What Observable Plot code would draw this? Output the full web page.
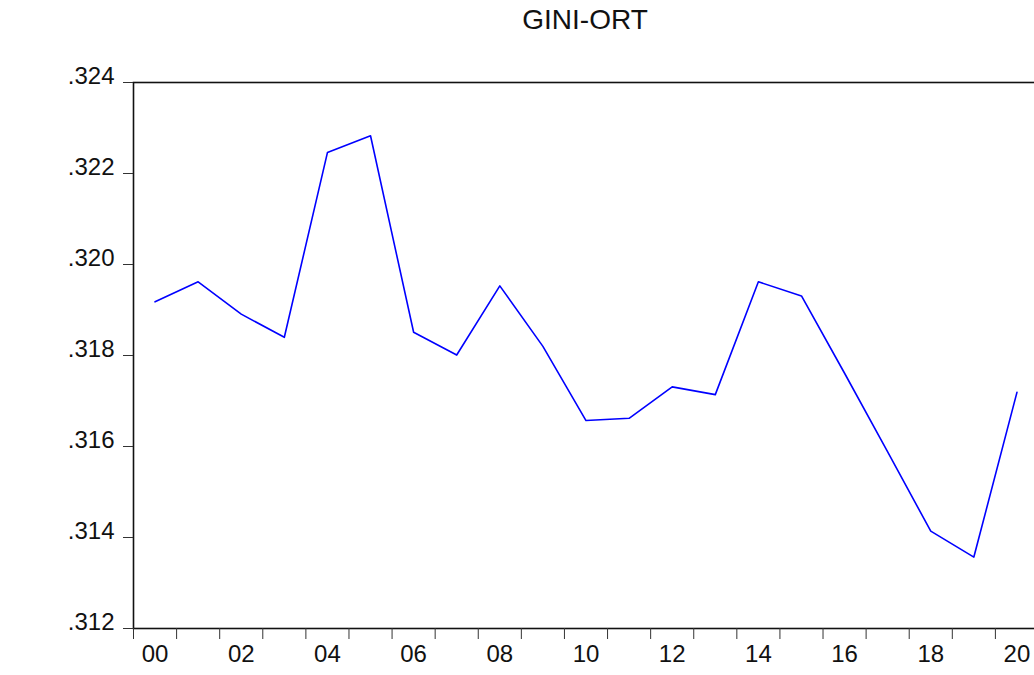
<!DOCTYPE html>
<html>
<head>
<meta charset="utf-8">
<script src="https://cdn.jsdelivr.net/npm/d3@7"></script>
<script src="https://cdn.jsdelivr.net/npm/@observablehq/plot@0.6"></script>
<style>
  html, body { margin: 0; padding: 0; background: #fff; }
  body { width: 1034px; height: 675px; overflow: hidden; font-family: "Liberation Sans", Arial, sans-serif; }
  #title { position: relative; height: 40px; }
  #title span { position: absolute; left: 585px; top: 4px; transform: translateX(-50%); font-size: 28px; color: #111; white-space: nowrap; }
  svg { display: block; }
</style>
</head>
<body>
<div id="title"><span>GINI-ORT</span></div>
<div id="chart"></div>
<script>
const years = [2000, 2001, 2002, 2003, 2004, 2005, 2006, 2007, 2008, 2009, 2010,
               2011, 2012, 2013, 2014, 2015, 2016, 2017, 2018, 2019, 2020];
const giniOrt = [0.31918, 0.31962, 0.31891, 0.31840, 0.32246, 0.32283, 0.31851, 0.31801,
                 0.31953, 0.31820, 0.31657, 0.31662, 0.31731, 0.31714, 0.31962, 0.31931,
                 0.31761, 0.31588, 0.31414, 0.31357, 0.31719];
const yTicks = [0.312, 0.314, 0.316, 0.318, 0.320, 0.322, 0.324];
const xLabelYears = [2000, 2002, 2004, 2006, 2008, 2010, 2012, 2014, 2016, 2018, 2020];

const data = years.map((y, i) => ({year: y, value: giniOrt[i]}));
const boundaries = years.map(y => y - 0.5);

const chart = Plot.plot({
  width: 1034,
  height: 635,
  marginTop: 42,
  marginBottom: 47,
  marginLeft: 133,
  marginRight: -4,
  style: {fontFamily: '"Liberation Sans", Arial, sans-serif', fontSize: "24px", color: "#111", background: "#fff"},
  x: {type: "linear", domain: [1999.5, 2020.5]},
  y: {domain: [0.312, 0.324]},
  marks: [
    Plot.frame({stroke: "#111", strokeWidth: 1.6}),
    Plot.axisY(yTicks, {
      anchor: "left", tickSize: 10, tickFormat: () => "", stroke: "#333", strokeWidth: 1, label: null
    }),
    Plot.axisY(yTicks, {
      anchor: "left", tickSize: 0, tickPadding: 19, dy: -6,
      tickFormat: d => d3.format(".3f")(d).replace(/^0/, ""),
      label: null, fontSize: 24
    }),
    Plot.axisX(boundaries, {
      anchor: "bottom", tickSize: 11, tickFormat: () => "", stroke: "#333", strokeWidth: 1, label: null
    }),
    Plot.axisX(xLabelYears, {
      anchor: "bottom", tickSize: 0, tickPadding: 16,
      tickFormat: d => String(d % 100).padStart(2, "0"),
      label: null, fontSize: 24
    }),
    Plot.line(data, {x: "year", y: "value", stroke: "#0000ff", strokeWidth: 1.6})
  ]
});
document.getElementById("chart").appendChild(chart);
</script>
</body>
</html>
